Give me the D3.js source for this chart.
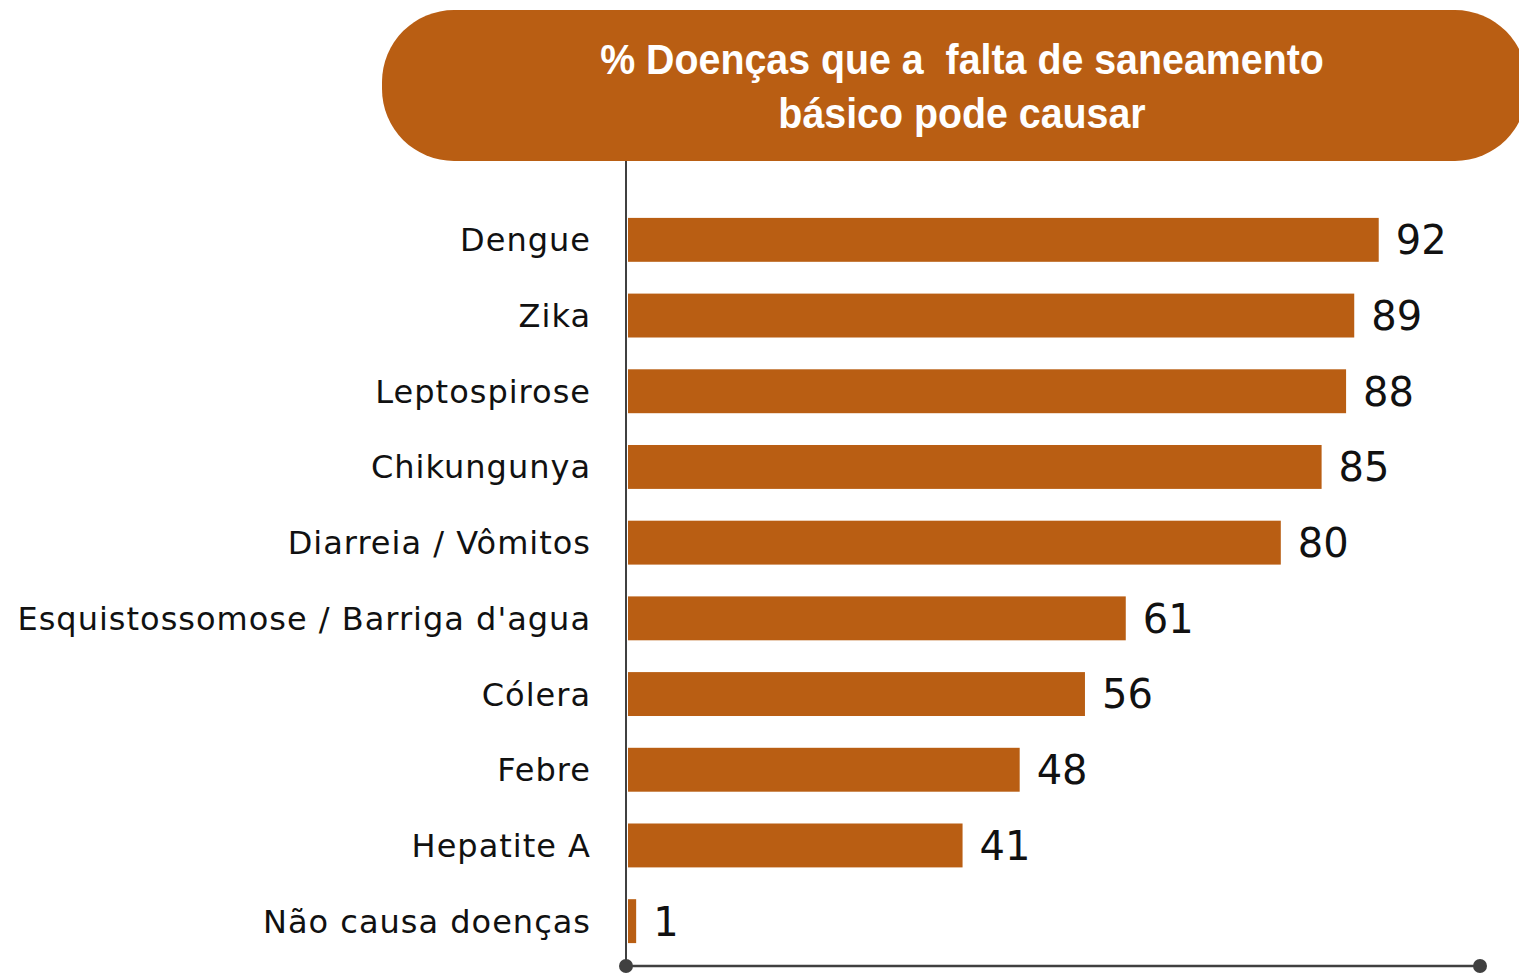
<!DOCTYPE html>
<html>
<head>
<meta charset="utf-8">
<script src="https://cdn.jsdelivr.net/npm/d3@7"></script>
<style>
  body { margin: 0; background: #fff; }
  .cat-label { font-family: 'DejaVu Sans', sans-serif; font-size: 32px; letter-spacing: 1px; fill: #111; }
  .val-label { font-family: 'DejaVu Sans', sans-serif; font-size: 40px; fill: #111; }
  .title { font-family: 'Liberation Sans', Arial, sans-serif; font-weight: bold; font-size: 43px; fill: #fff; white-space: pre; }
</style>
</head>
<body>
<svg width="1519" height="973"></svg>
<script>
  const categories = ['Dengue', 'Zika', 'Leptospirose', 'Chikungunya', 'Diarreia / Vômitos',
    'Esquistossomose / Barriga d\'agua', 'Cólera', 'Febre', 'Hepatite A', 'Não causa doenças'];
  const values = [92, 89, 88, 85, 80, 61, 56, 48, 41, 1];
  const titleLines = ['% Doenças que a  falta de saneamento', 'básico pode causar'];

  const svg = d3.select('svg');
  const width = +svg.attr('width');
  const height = +svg.attr('height');
  const barColor = '#B95E13';
  const axisColor = '#404040';

  const data = categories.map((c, i) => ({ name: c, value: values[i] }));

  const margin = { top: 202, left: 628, bottom: 11 };

  const xScale = d3.scaleLinear()
    .domain([0, 100])
    .range([margin.left, margin.left + 816]);

  const yScale = d3.scaleBand()
    .domain(categories)
    .range([margin.top, margin.top + 757])
    .paddingInner(0.42)
    .paddingOuter(0.21);

  // title banner
  const bx = 382, by = 10, bw = 1145, bh = 151, br = 72;
  svg.append('rect')
    .attr('x', bx).attr('y', by)
    .attr('width', bw).attr('height', bh)
    .attr('rx', br).attr('ry', br)
    .attr('fill', barColor);

  // narrow title: squeeze the bold face horizontally
  svg.append('text')
    .attr('class', 'title')
    .attr('text-anchor', 'middle')
    .attr('transform', 'translate(962,0) scale(0.915,1)')
    .selectAll('tspan')
    .data(titleLines)
    .join('tspan')
      .attr('x', 0)
      .attr('y', (d, i) => 74 + i * 54)
      .text(d => d);

  // bars
  svg.append('g').selectAll('rect')
    .data(data)
    .join('rect')
      .attr('x', xScale(0))
      .attr('y', d => yScale(d.name))
      .attr('width', d => xScale(d.value) - xScale(0))
      .attr('height', yScale.bandwidth())
      .attr('fill', barColor);

  // value labels
  svg.append('g').selectAll('text')
    .data(data)
    .join('text')
      .attr('class', 'val-label')
      .attr('x', d => xScale(d.value) + 17)
      .attr('y', d => yScale(d.name) + yScale.bandwidth() / 2)
      .attr('dy', '0.36em')
      .text(d => d.value);

  // category labels
  svg.append('g').selectAll('text')
    .data(data)
    .join('text')
      .attr('class', 'cat-label')
      .attr('text-anchor', 'end')
      .attr('x', 591)
      .attr('y', d => yScale(d.name) + yScale.bandwidth() / 2)
      .attr('dy', '0.36em')
      .text(d => d.name);

  // axes
  const axisY = 966;
  svg.append('line')
    .attr('x1', 626).attr('x2', 626)
    .attr('y1', by + bh).attr('y2', axisY)
    .attr('stroke', axisColor).attr('stroke-width', 2);
  svg.append('line')
    .attr('x1', 626).attr('x2', 1480)
    .attr('y1', axisY).attr('y2', axisY)
    .attr('stroke', axisColor).attr('stroke-width', 2.5);
  svg.selectAll('circle.end')
    .data([626, 1480])
    .join('circle')
      .attr('class', 'end')
      .attr('cx', d => d).attr('cy', axisY).attr('r', 7)
      .attr('fill', axisColor);
</script>
</body>
</html>
